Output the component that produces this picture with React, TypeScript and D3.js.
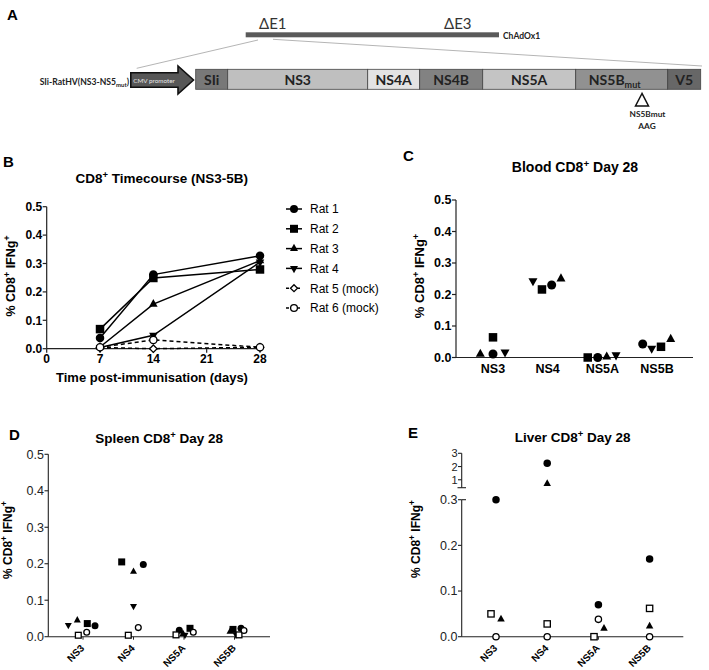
import React from "react";
import * as d3 from "d3";

const FONT = "'Liberation Sans', Arial, sans-serif";
const FONT_A = "Lato, 'Liberation Sans', sans-serif";

// ---------- Panel A (construct diagram) ----------
const segmentNames = ["SIi", "NS3", "NS4A", "NS4B", "NS5A", "NS5B", "V5"];
const segmentUnits = [32, 140, 52, 63, 93, 92, 33];
const segmentColors = ["#787878", "#bfbfbf", "#e3e3e3", "#828282", "#c4c4c4", "#919191", "#676767"];

// ---------- Panel B (time course) ----------
const timeDays = [7, 14, 28];
const timeTicks = [0, 7, 14, 21, 28];
const percentTicks = [0, 0.1, 0.2, 0.3, 0.4, 0.5];
const ratNames = ["Rat 1", "Rat 2", "Rat 3", "Rat 4", "Rat 5 (mock)", "Rat 6 (mock)"];
const rat1Time = [0.038, 0.261, 0.327];
const rat2Time = [0.069, 0.249, 0.279];
const rat3Time = [0.006, 0.157, 0.31];
const rat4Time = [0.004, 0.047, 0.305];
const rat5Time = [0.004, 0.0, 0.005];
const rat6Time = [0.005, 0.031, 0.005];

// ---------- Panels C, D, E ----------
const antigens = ["NS3", "NS4", "NS5A", "NS5B"];

const bloodRat1 = [0.011, 0.23, 0.0, 0.043];
const bloodRat2 = [0.064, 0.216, 0.0, 0.034];
const bloodRat3 = [0.011, 0.25, 0.002, 0.058];
const bloodRat4 = [0.017, 0.243, 0.008, 0.029];

const spleenRat1 = [0.03, 0.198, 0.018, 0.023];
const spleenRat2 = [0.036, 0.205, 0.023, 0.02];
const spleenRat3 = [0.045, 0.178, 0.008, 0.014];
const spleenRat4 = [0.032, 0.084, 0.005, 0.006];
const spleenRat5 = [0.004, 0.004, 0.005, 0.005];
const spleenRat6 = [0.012, 0.025, 0.012, 0.017];

const liverRat1 = [0.3, 2.25, 0.07, 0.17];
const liverRat3 = [0.038, 0.7, 0.018, 0.023];
const liverRat5 = [0.05, 0.028, 0.0, 0.062];
const liverRat6 = [0.0, 0.0, 0.038, 0.0];
const liverLowTicks = [0, 0.1, 0.2, 0.3];
const liverHighTicks = [1, 2, 3];

// horizontal jitter (layout, px) of the scatter points
const bloodJitter = [
  [0, 4, -4.6, -14.3],
  [0, -5.7, -14.6, 4],
  [-12.7, 13.3, 4.4, 13.7],
  [12, -14.7, 13.7, -5.3],
];
const spleenJitter = [
  [12, 9.8, -4.7, 6.5],
  [4.3, -11.8, 6, -1.5],
  [-5.7, 0, -1, -4.5],
  [-14.7, 0, 1, 1.5],
  [-4.7, -5.2, -8, 4.5],
  [3.7, 4.8, 9.3, 9.5],
];
const liverJitter = [
  [0, 0, 0, 0],
  [5, 0, 5.6, 0],
  [-5, 0, -4.4, 0],
  [0, 0, 0, 0],
];

type Shape = "circle" | "square" | "triUp" | "triDown" | "diamondOpen" | "circleOpen" | "squareOpen";

function Marker({ shape, x, y, s }: { shape: Shape; x: number; y: number; s: number }) {
  const sw = 1.3;
  switch (shape) {
    case "circle":
      return <circle cx={x} cy={y} r={s / 2} fill="#000" />;
    case "circleOpen":
      return <circle cx={x} cy={y} r={s / 2 - 0.6} fill="#fff" stroke="#000" strokeWidth={sw} />;
    case "square":
      return <rect x={x - s / 2} y={y - s / 2} width={s} height={s} fill="#000" />;
    case "squareOpen":
      return <rect x={x - s / 2 + 0.6} y={y - s / 2 + 0.6} width={s - 1.2} height={s - 1.2} fill="#fff" stroke="#000" strokeWidth={sw} />;
    case "triUp": {
      const h = s * 0.9;
      return <polygon points={`${x},${y - (2 * h) / 3} ${x - s / 2},${y + h / 3} ${x + s / 2},${y + h / 3}`} fill="#000" />;
    }
    case "triDown": {
      const h = s * 0.9;
      return <polygon points={`${x},${y + (2 * h) / 3} ${x - s / 2},${y - h / 3} ${x + s / 2},${y - h / 3}`} fill="#000" />;
    }
    case "diamondOpen": {
      const r = s / 2;
      return <polygon points={`${x},${y - r} ${x + r},${y} ${x},${y + r} ${x - r},${y}`} fill="#fff" stroke="#000" strokeWidth={sw} />;
    }
  }
  return null;
}

function YLabel({ x, y, size }: { x: number; y: number; size: number }) {
  return (
    <text transform={`translate(${x},${y}) rotate(-90)`} textAnchor="middle" fontFamily={FONT} fontWeight="bold" fontSize={size}>
      % CD8<tspan dy={-5} fontSize={size * 0.7}>+</tspan>
      <tspan dy={5}> IFNg</tspan>
      <tspan dy={-5} fontSize={size * 0.7}>+</tspan>
    </text>
  );
}

function Title({ x, y, pre, post, size }: { x: number; y: number; pre: string; post: string; size: number }) {
  return (
    <text x={x} y={y} textAnchor="middle" fontFamily={FONT} fontWeight="bold" fontSize={size}>
      {pre}
      <tspan dy={-5} fontSize={size * 0.7}>+</tspan>
      <tspan dy={5}>{post}</tspan>
    </text>
  );
}

const AX = "#222";

export default function App() {
  // ---------- Panel A ----------
  const totalUnits = d3.sum(segmentUnits);
  const segX = d3.scaleLinear().domain([0, totalUnits]).range([195.7, 700.7]);
  const cum = [0, ...d3.cumsum(segmentUnits)];
  const boxTop = 69.3, boxBot = 89.3;

  // ---------- Panel B ----------
  const bx = d3.scaleLinear().domain([0, 28]).range([46.7, 260]);
  const by = d3.scaleLinear().domain([0, 0.5]).range([348.7, 206.7]);
  const timeSeries = [rat1Time, rat2Time, rat3Time, rat4Time, rat5Time, rat6Time];
  const timeShapes: Shape[] = ["circle", "square", "triUp", "triDown", "diamondOpen", "circleOpen"];
  const timeDashed = [false, false, false, false, true, true];
  const lineGen = (vals: number[]) =>
    d3.line<number>().x((_, i) => bx(timeDays[i])).y((v) => by(v))(vals) || "";
  const legendY = d3.scalePoint<string>().domain(ratNames).range([209, 308]);

  // ---------- Panel C ----------
  const cx = d3.scalePoint<string>().domain(antigens).range([493, 657]);
  const cy = d3.scaleLinear().domain([0, 0.5]).range([357.5, 200]);
  const bloodSeries = [bloodRat1, bloodRat2, bloodRat3, bloodRat4];
  const bloodShapes: Shape[] = ["circle", "square", "triUp", "triDown"];

  // ---------- Panel D ----------
  const dx = d3.scalePoint<string>().domain(antigens).range([83, 234.5]);
  const dy = d3.scaleLinear().domain([0, 0.5]).range([636.7, 454.3]);
  const spleenSeries = [spleenRat1, spleenRat2, spleenRat3, spleenRat4, spleenRat5, spleenRat6];
  const spleenShapes: Shape[] = ["circle", "square", "triUp", "triDown", "squareOpen", "circleOpen"];

  // ---------- Panel E ----------
  const ex = d3.scalePoint<string>().domain(antigens).range([496, 649.6]);
  const eyLow = d3.scaleLinear().domain([0, 0.3]).range([636.7, 499.7]);
  const eyHigh = d3.scaleLinear().domain([0.4, 3]).range([487.7, 453.3]);
  const ey = (v: number) => (v > 0.35 ? eyHigh(v) : eyLow(v));
  const liverSeries = [liverRat1, liverRat3, liverRat5, liverRat6];
  const liverShapes: Shape[] = ["circle", "triUp", "squareOpen", "circleOpen"];

  const fmt = d3.format(".1f");

  return (
    <svg width={709} height={670} style={{ position: "absolute", left: 0, top: 0, background: "#fff" }}>
      <rect width={709} height={670} fill="#fff" />

      {/* ================= PANEL A ================= */}
      <text x={7} y={20} fontFamily={FONT} fontWeight="bold" fontSize={15}>A</text>
      <text x={259} y={29} fontFamily={FONT_A} fontSize={15} fill="#333">ΔE1</text>
      <text x={444} y={29} fontFamily={FONT_A} fontSize={15} fill="#333">ΔE3</text>
      <rect x={245.7} y={32.3} width={253.3} height={5} fill="#5a5a5a" />
      <text x={503} y={38.5} fontFamily={FONT_A} fontWeight="bold" fontSize={8.5} fill="#222">ChAdOx1</text>
      <line x1={258} y1={40} x2={136.7} y2={68.3} stroke="#b5b5b5" strokeWidth={1} />
      <line x1={273} y1={39.3} x2={702} y2={66} stroke="#b5b5b5" strokeWidth={1} />

      <text x={129} y={85} textAnchor="end" fontFamily={FONT_A} fontWeight="bold" fontSize={8.6} fill="#222">
        SIi-RatHV(NS3-NS5<tspan dy={2} fontSize={6}>mut</tspan><tspan dy={-2}>)</tspan>
      </text>
      <path d="M130.8,72.7 L178,72.7 L178,66 L193.5,80 L178,94 L178,87.3 L130.8,87.3 Z" fill="#575757" stroke="#111" strokeWidth={1.6} />
      <text x={154} y={82.5} textAnchor="middle" fontFamily={FONT_A} fontSize={6.3} fill="#e8e8e8">CMV promoter</text>

      {segmentNames.map((name, i) => {
        const x0 = segX(cum[i]);
        const x1 = segX(cum[i + 1]);
        return (
          <g key={name}>
            <rect x={x0} y={boxTop} width={x1 - x0} height={boxBot - boxTop} fill={segmentColors[i]} stroke="#444" strokeWidth={0.8} />
            <text x={(x0 + x1) / 2 + (name === "NS5B" ? -7 : 0)} y={84.5} textAnchor="middle" fontFamily={FONT_A} fontWeight="bold" fontSize={14} fill="#222">
              {name}
              {name === "NS5B" ? <tspan dy={3} fontSize={9}>mut</tspan> : null}
            </text>
          </g>
        );
      })}
      <polygon points="642,93.5 635.5,106 648.5,106" fill="#fff" stroke="#111" strokeWidth={1.5} />
      <text x={647.5} y={116.7} textAnchor="middle" fontFamily={FONT_A} fontWeight="bold" fontSize={8.3} fill="#222">NS5Bmut</text>
      <text x={647} y={129} textAnchor="middle" fontFamily={FONT_A} fontWeight="bold" fontSize={8.3} fill="#222">AAG</text>

      {/* ================= PANEL B ================= */}
      <text x={3} y={167} fontFamily={FONT} fontWeight="bold" fontSize={15}>B</text>
      <Title x={161.7} y={183.3} pre="CD8" post=" Timecourse (NS3-5B)" size={13.5} />
      <YLabel x={15} y={276} size={12.5} />
      <line x1={bx(0)} y1={by(0)} x2={bx(0)} y2={by(0.5)} stroke={AX} strokeWidth={1.2} />
      {percentTicks.map((t) => (
        <g key={"by" + t}>
          <line x1={bx(0) - 4} x2={bx(0)} y1={by(t)} y2={by(t)} stroke={AX} strokeWidth={1.2} />
          <text x={bx(0) - 4.5} y={by(t) + 4.2} textAnchor="end" fontFamily={FONT} fontWeight="bold" fontSize={12}>{fmt(t)}</text>
        </g>
      ))}
      <line x1={bx(0)} y1={by(0)} x2={263} y2={by(0)} stroke={AX} strokeWidth={1.2} />
      {timeTicks.map((t) => (
        <g key={"bx" + t}>
          <line x1={bx(t)} x2={bx(t)} y1={by(0)} y2={by(0) + 4} stroke={AX} strokeWidth={1.2} />
          <text x={bx(t)} y={363} textAnchor="middle" fontFamily={FONT} fontWeight="bold" fontSize={12}>{t}</text>
        </g>
      ))}
      <text x={152} y={381.5} textAnchor="middle" fontFamily={FONT} fontWeight="bold" fontSize={13}>Time post-immunisation (days)</text>
      {timeSeries.map((vals, i) => (
        <path key={"bl" + i} d={lineGen(vals)} fill="none" stroke="#000" strokeWidth={1.5} strokeDasharray={timeDashed[i] ? "4,3" : undefined} />
      ))}
      {timeSeries.map((vals, i) =>
        vals.map((v, j) => <Marker key={`bm${i}-${j}`} shape={timeShapes[i]} x={bx(timeDays[j])} y={by(v)} s={timeShapes[i] === "diamondOpen" ? 7.5 : 8.5} />)
      )}
      {ratNames.map((n, i) => {
        const y = legendY(n) as number;
        return (
          <g key={"lg" + i}>
            <line x1={286} x2={302} y1={y} y2={y} stroke="#000" strokeWidth={1.5} strokeDasharray={timeDashed[i] ? "3,2.5" : undefined} />
            <Marker shape={timeShapes[i]} x={294} y={y} s={timeShapes[i] === "diamondOpen" ? 7 : 8} />
            <text x={310} y={y + 4.3} fontFamily={FONT} fontSize={12}>{n}</text>
          </g>
        );
      })}

      {/* ================= PANEL C ================= */}
      <text x={403} y={161} fontFamily={FONT} fontWeight="bold" fontSize={15}>C</text>
      <Title x={575} y={172.3} pre="Blood CD8" post="  Day 28" size={14} />
      <YLabel x={424} y={276} size={13} />
      <line x1={456} y1={cy(0)} x2={456} y2={cy(0.5)} stroke={AX} strokeWidth={1.2} />
      {percentTicks.map((t) => (
        <g key={"cy" + t}>
          <line x1={452} x2={456} y1={cy(t)} y2={cy(t)} stroke={AX} strokeWidth={1.2} />
          <text x={451.5} y={cy(t) + 4.3} textAnchor="end" fontFamily={FONT} fontWeight="bold" fontSize={12.5}>{fmt(t)}</text>
        </g>
      ))}
      <line x1={456} y1={cy(0)} x2={693} y2={cy(0)} stroke={AX} strokeWidth={1.2} />
      {antigens.map((a) => (
        <text key={"cx" + a} x={cx(a)} y={373.3} textAnchor="middle" fontFamily={FONT} fontWeight="bold" fontSize={12.5}>{a}</text>
      ))}
      {bloodSeries.map((vals, i) =>
        vals.map((v, j) => (
          <Marker key={`cm${i}-${j}`} shape={bloodShapes[i]} x={(cx(antigens[j]) as number) + bloodJitter[i][j]} y={cy(v)} s={bloodShapes[i] === "square" ? 8.5 : 9} />
        ))
      )}

      {/* ================= PANEL D ================= */}
      <text x={9} y={440} fontFamily={FONT} fontWeight="bold" fontSize={15}>D</text>
      <Title x={159.2} y={442.7} pre="Spleen CD8" post=" Day 28" size={13.5} />
      <YLabel x={12} y={540} size={12} />
      <line x1={48.3} y1={dy(0)} x2={48.3} y2={dy(0.5)} stroke={AX} strokeWidth={1.1} />
      {percentTicks.map((t) => (
        <g key={"dy" + t}>
          <line x1={44.5} x2={48.3} y1={dy(t)} y2={dy(t)} stroke={AX} strokeWidth={1.1} />
          <text x={44} y={dy(t) + 4.3} textAnchor="end" fontFamily={FONT} fontSize={12.5} fill="#222">{fmt(t)}</text>
        </g>
      ))}
      <line x1={48.3} y1={dy(0)} x2={270} y2={dy(0)} stroke={AX} strokeWidth={1.1} />
      {antigens.map((a) => {
        const x = dx(a) as number;
        return (
          <g key={"dx" + a}>
            <line x1={x} x2={x} y1={dy(0)} y2={dy(0) + 3} stroke={AX} strokeWidth={1} />
            <text transform={`translate(${x + 2},${dy(0) + 12}) rotate(-45)`} textAnchor="end" fontFamily={FONT} fontWeight="bold" fontSize={10}>{a}</text>
          </g>
        );
      })}
      {spleenSeries.map((vals, i) =>
        vals.map((v, j) => (
          <Marker key={`dm${i}-${j}`} shape={spleenShapes[i]} x={(dx(antigens[j]) as number) + spleenJitter[i][j]} y={dy(v)} s={7} />
        ))
      )}

      {/* ================= PANEL E ================= */}
      <text x={408} y={438} fontFamily={FONT} fontWeight="bold" fontSize={15}>E</text>
      <Title x={572.7} y={441.7} pre="Liver CD8" post=" Day 28" size={13.5} />
      <YLabel x={420} y={539} size={12} />
      {/* upper segment */}
      <line x1={461.7} y1={eyHigh(0.4)} x2={461.7} y2={eyHigh(3)} stroke={AX} strokeWidth={1.1} />
      <line x1={457.5} x2={466} y1={eyHigh(0.4)} y2={eyHigh(0.4)} stroke={AX} strokeWidth={1.1} />
      {liverHighTicks.map((t) => (
        <g key={"eh" + t}>
          <line x1={458} x2={461.7} y1={eyHigh(t)} y2={eyHigh(t)} stroke={AX} strokeWidth={1.1} />
          <text x={457.5} y={eyHigh(t) + 4} textAnchor="end" fontFamily={FONT} fontSize={11} fill="#222">{t}</text>
        </g>
      ))}
      {/* lower segment */}
      <line x1={461.7} y1={eyLow(0)} x2={461.7} y2={eyLow(0.3)} stroke={AX} strokeWidth={1.1} />
      <line x1={461.7} x2={466} y1={eyLow(0.3)} y2={eyLow(0.3)} stroke={AX} strokeWidth={1.1} />
      {liverLowTicks.map((t) => (
        <g key={"el" + t}>
          <line x1={458} x2={461.7} y1={eyLow(t)} y2={eyLow(t)} stroke={AX} strokeWidth={1.1} />
          <text x={457.5} y={eyLow(t) + 4.3} textAnchor="end" fontFamily={FONT} fontSize={12.5} fill="#222">{fmt(t)}</text>
        </g>
      ))}
      <line x1={461.7} y1={eyLow(0)} x2={683.3} y2={eyLow(0)} stroke={AX} strokeWidth={1.1} />
      {antigens.map((a) => {
        const x = ex(a) as number;
        return (
          <g key={"ex" + a}>
            <line x1={x} x2={x} y1={eyLow(0)} y2={eyLow(0) + 3} stroke={AX} strokeWidth={1} />
            <text transform={`translate(${x + 2},${eyLow(0) + 12}) rotate(-45)`} textAnchor="end" fontFamily={FONT} fontWeight="bold" fontSize={10}>{a}</text>
          </g>
        );
      })}
      {liverSeries.map((vals, i) =>
        vals.map((v, j) => (
          <Marker key={`em${i}-${j}`} shape={liverShapes[i]} x={(ex(antigens[j]) as number) + liverJitter[i][j]} y={ey(v)} s={7.5} />
        ))
      )}
    </svg>
  );
}
